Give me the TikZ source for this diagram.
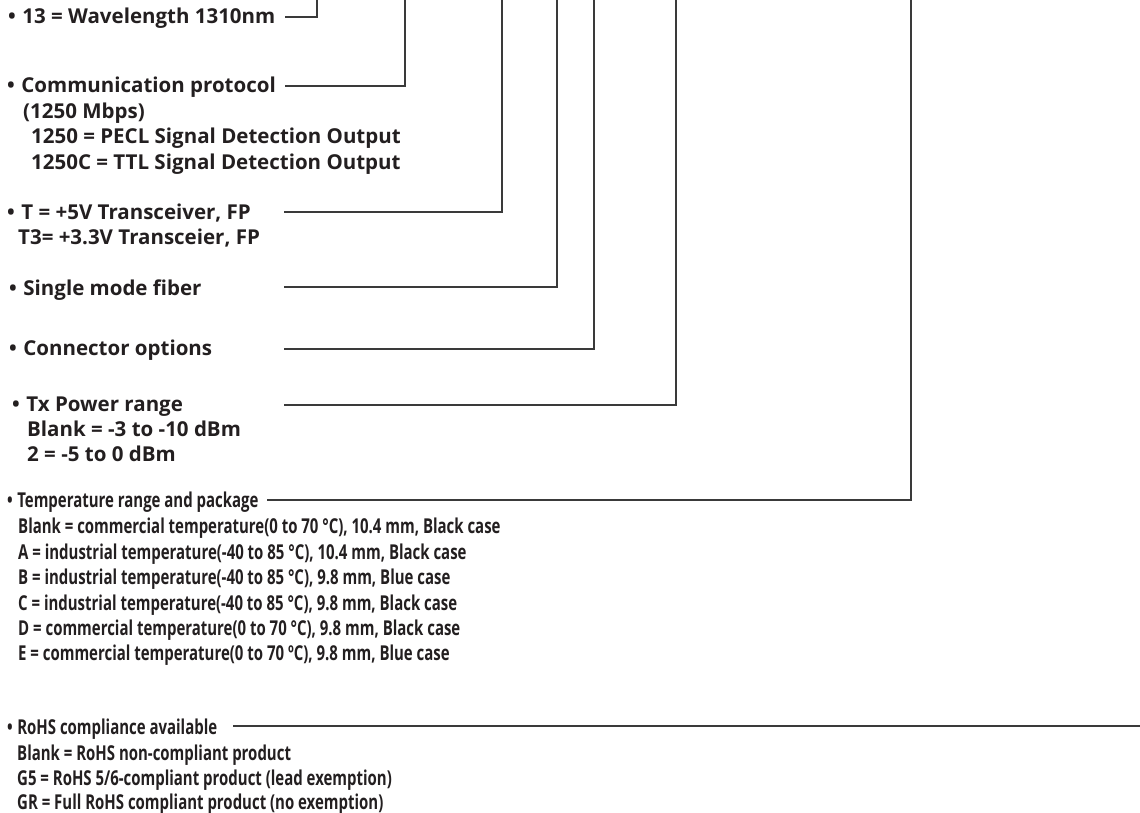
\documentclass[tikz,border=0pt]{standalone}
\usepackage{fontspec}
\setmainfont{Open Sans}
\newfontfamily\condfont{Open Sans}[FakeStretch=0.73]
\definecolor{ink}{HTML}{231F20}
\definecolor{wire}{HTML}{3A3A3A}
\tikzset{
  txt/.style={anchor=base west, inner sep=0pt, text=ink, font=\bfseries\fontsize{20.5}{24}\selectfont},
  ctxt/.style={anchor=base west, inner sep=0pt, text=ink, font=\condfont\bfseries\fontsize{20.5}{24}\selectfont},
  conn/.style={draw=wire, line width=1.3pt}
}
\newcommand{\bul}{•\hspace{6.5pt}}
\newcommand{\cbul}{•\hspace{4.5pt}}
\begin{document}
\begin{tikzpicture}[x=1pt,y=-1pt]
\useasboundingbox (0,0) rectangle (1140,813);
\fill[white] (0,0) rectangle (1140,813);

% group 1
\node[txt] (g1a) at (8,24) {\bul 13 = Wavelength 1310nm};
% group 2
\node[txt] (g2a) at (7,93) {\bul Communication protocol};
\node[txt] (g2b) at (23,119) {(1250 Mbps)};
\node[txt] (g2c) at (31,144) {1250 = PECL Signal Detection Output};
\node[txt] (g2d) at (31,170) {1250C = TTL Signal Detection Output};
% group 3
\node[txt] (g3a) at (7,219) {\bul T = +5V Transceiver, FP};
\node[txt] (g3b) at (18,244) {T3= +3.3V Transceier, FP};
% group 4
\node[txt] (g4a) at (9,295) {\bul Single mode fiber};
% group 5
\node[txt] (g5a) at (9,355) {\bul Connector options};
% group 6
\node[txt] (g6a) at (12,411) {\bul Tx Power range};
\node[txt] (g6b) at (27,436) {Blank = -3 to -10 dBm};
\node[txt] (g6c) at (27,461) {2 = -5 to 0 dBm};
% group 7
\node[ctxt] (g7a) at (7,507) {\cbul Temperature range and package};
\node[ctxt] (g7b) at (18,533) {Blank = commercial temperature(0 to 70 °C), 10.4 mm, Black case};
\node[ctxt] (g7c) at (18,559) {A = industrial temperature(-40 to 85 °C), 10.4 mm, Black case};
\node[ctxt] (g7d) at (18,584) {B = industrial temperature(-40 to 85 °C), 9.8 mm, Blue case};
\node[ctxt] (g7e) at (18,610) {C = industrial temperature(-40 to 85 °C), 9.8 mm, Black case};
\node[ctxt] (g7f) at (18,635) {D = commercial temperature(0 to 70 °C), 9.8 mm, Black case};
\node[ctxt] (g7g) at (18,660) {E = commercial temperature(0 to 70 ºC), 9.8 mm, Blue case};
% group 8
\node[ctxt] (g8a) at (7,734) {\cbul RoHS compliance available};
\node[ctxt] (g8b) at (17,760) {Blank = RoHS non-compliant product};
\node[ctxt] (g8c) at (17,785) {G5 = RoHS 5/6-compliant product (lead exemption)};
\node[ctxt] (g8d) at (17,809) {GR = Full RoHS compliant product (no exemption)};

% connector coordinates
\coordinate (s1) at (285,17);  \coordinate (t1) at (317,0);
\coordinate (s2) at (285,86);  \coordinate (t2) at (405,0);
\coordinate (s3) at (284,212); \coordinate (t3) at (502,0);
\coordinate (s4) at (284,287); \coordinate (t4) at (557,0);
\coordinate (s5) at (284,349); \coordinate (t5) at (594,0);
\coordinate (s6) at (284,405); \coordinate (t6) at (676,0);
\coordinate (s7) at (267,500); \coordinate (t7) at (911,0);
\coordinate (s8) at (233,726); \coordinate (t8) at (1140,726);

\draw[conn] (s1) -| (t1);
\draw[conn] (s2) -| (t2);
\draw[conn] (s3) -| (t3);
\draw[conn] (s4) -| (t4);
\draw[conn] (s5) -| (t5);
\draw[conn] (s6) -| (t6);
\draw[conn] (s7) -| (t7);
\draw[conn] (s8) -- (t8);
\end{tikzpicture}
\end{document}
